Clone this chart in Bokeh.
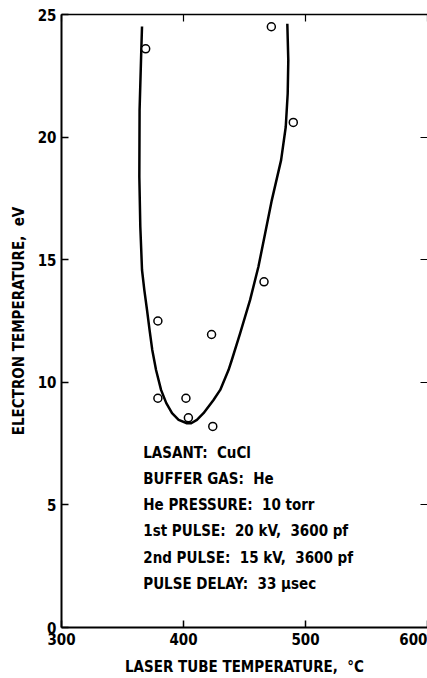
from bokeh.plotting import figure
from bokeh.models import LinearAxis, FixedTicker, Range1d, ColumnDataSource
from bokeh.core.properties import value
from bokeh.embed import file_html
from bokeh.resources import INLINE

# ---- data ----
meas_temp = [369, 472, 490, 466, 379, 423, 379, 402, 404, 424]
meas_te = [23.6, 24.5, 20.6, 14.1, 12.5, 11.95, 9.35, 9.35, 8.55, 8.2]

# smooth fitted curve
curve_temp = [366.0, 365.4, 364.0, 363.8, 364.6, 366.0, 367.9, 370.1, 372.2, 374.4,
              377.5, 381.6, 385.9, 390.6, 396.0, 402.8, 406.3, 411.0, 416.4, 424.6,
              430.1, 436.9, 439.6, 446.4, 454.6, 461.4, 466.9, 472.4, 480.0, 483.8,
              485.4, 485.9, 485.1]
curve_te = [24.51, 23.53, 21.09, 18.38, 16.34, 14.58, 13.76, 12.95, 12.13, 11.32,
            10.50, 9.69, 9.15, 8.74, 8.47, 8.33, 8.33, 8.47, 8.74, 9.28,
            9.69, 10.50, 10.91, 12.00, 13.36, 14.71, 16.07, 17.43, 19.06, 20.41,
            21.77, 23.13, 24.62]

x_ticks = [300, 400, 500, 600]
y_ticks = [0, 5, 10, 15, 20, 25]

NB = "\u00a0"
notes = ["LASANT:" + NB * 2 + "CuCl",
         "BUFFER GAS:" + NB * 2 + "He",
         "He PRESSURE:" + NB * 2 + "10 torr",
         "1st PULSE:" + NB * 2 + "20 kV," + NB * 2 + "3600 pf",
         "2nd PULSE:" + NB * 2 + "15 kV," + NB * 2 + "3600 pf",
         "PULSE DELAY:" + NB * 2 + "33 \u03bcsec"]

FONT = "'Liberation Sans Narrow', 'DejaVu Sans Condensed', 'Roboto Condensed', 'Liberation Sans', sans-serif"

p = figure(width=427, height=678, output_backend="svg", toolbar_location=None,
           x_range=Range1d(300, 600), y_range=Range1d(0, 25),
           min_border_left=61, min_border_right=0, min_border_top=14, min_border_bottom=50,
           x_axis_label="LASER TUBE TEMPERATURE," + NB * 2 + "\u00b0C",
           y_axis_label="ELECTRON TEMPERATURE," + NB * 2 + "eV")
p.outline_line_color = None
p.grid.visible = False
p.background_fill_color = "white"
p.border_fill_color = "white"

for ax in (p.xaxis[0], p.yaxis[0]):
    ax.axis_line_width = 2
    ax.axis_line_color = "black"
    ax.major_tick_in = 7
    ax.major_tick_out = 0
    ax.major_tick_line_width = 1.5
    ax.minor_tick_line_color = None
    ax.major_label_text_font = FONT
    ax.major_label_text_font_style = "bold"
    ax.major_label_text_font_size = "15px"
    ax.major_label_text_color = "black"
    ax.axis_label_text_font = FONT
    ax.axis_label_text_font_style = "bold"
    ax.axis_label_text_font_size = "15px"
    ax.axis_label_text_color = "black"

p.xaxis[0].ticker = FixedTicker(ticks=x_ticks)
p.yaxis[0].ticker = FixedTicker(ticks=y_ticks)
p.xaxis[0].major_label_standoff = 5
p.xaxis[0].axis_label_standoff = 10
p.yaxis[0].major_label_standoff = 5
p.yaxis[0].axis_label_standoff = 7

top = LinearAxis(ticker=FixedTicker(ticks=x_ticks), major_tick_in=7, major_tick_out=0,
                 major_label_overrides={t: "" for t in x_ticks}, major_label_standoff=0,
                 axis_line_width=1.5, minor_tick_line_color=None, major_tick_line_width=1.2)
p.add_layout(top, "above")
right = LinearAxis(ticker=FixedTicker(ticks=y_ticks), major_tick_in=7, major_tick_out=0,
                   major_label_overrides={t: "" for t in y_ticks}, major_label_standoff=0,
                   axis_line_color=None, minor_tick_line_color=None, major_tick_line_width=1.2)
p.add_layout(right, "right")

p.line(curve_temp, curve_te, line_color="black", line_width=2.5, line_join="round")
p.scatter(meas_temp, meas_te, size=8, marker="circle", fill_color="white",
          line_color="black", line_width=1.5)

ann_top = 7.13
ann_step = 1.07
src = ColumnDataSource(dict(x=[367.0] * len(notes),
                            y=[ann_top - i * ann_step for i in range(len(notes))],
                            t=notes))
p.text(x="x", y="y", text="t", source=src, text_font=value(FONT), text_font_style="bold",
       text_font_size="15px", text_baseline="middle", text_align="left", text_color="black")

open("out.html", "w").write(file_html(p, INLINE))
